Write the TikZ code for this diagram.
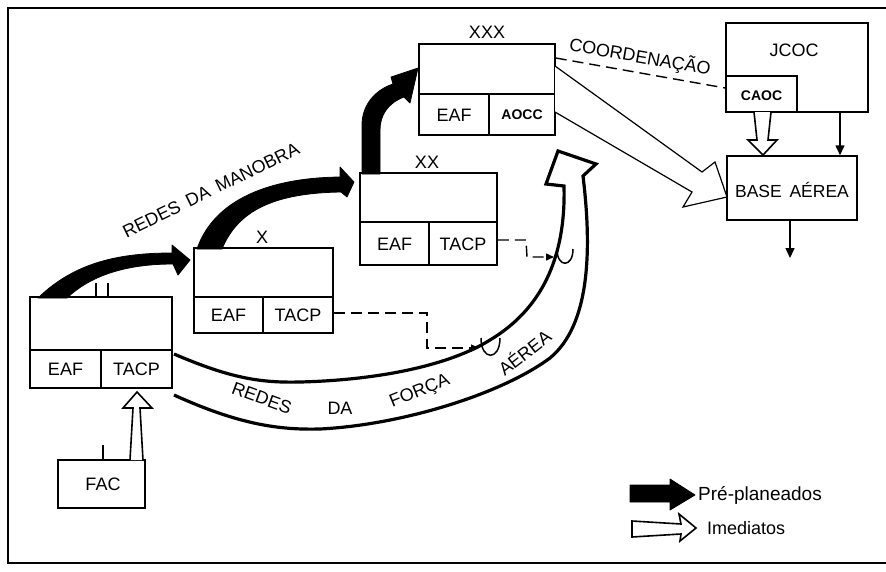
\documentclass[tikz,border=0pt]{standalone}
\usepackage{fontspec}
\setmainfont{Liberation Sans}
\usetikzlibrary{arrows.meta}
\begin{document}
\begin{tikzpicture}[x=1pt,y=-1pt,
  box/.style={draw,line width=1.5pt,inner sep=0pt},
  lbl/.style={font=\fontsize{18}{20}\selectfont,inner sep=0pt},
  blbl/.style={font=\fontsize{14}{16}\selectfont\bfseries,inner sep=0pt},
  biglbl/.style={font=\fontsize{18}{20}\selectfont,inner sep=0pt},
  ln/.style={line width=1.5pt},
  thin/.style={line width=1.2pt},
  dashline/.style={line width=1.4pt,dash pattern=on 11pt off 6pt},
  solidfill/.style={fill=black,draw=black,line width=0.8pt,line join=round},
  hollow/.style={draw=black,fill=white,line width=1.6pt,line join=miter},
  band/.style={line width=3.2pt,line join=miter}]
\path[use as bounding box] (0,0) rectangle (886,571);
% frame
\draw[line width=2.4pt] (886,8) -- (8,8) -- (8,563) -- (886,563);

% ---- boxes ----
\node[box,minimum width=142pt,minimum height=91pt] (A) at (101,342.5) {};
\draw[ln] (A.west |- 0,350) -- (A.east |- 0,350);
\draw[ln] (101,350) -- (A.south -| 101,0);
\node[lbl] (Aeaf) at (65.5,369.5) {EAF};
\node[lbl] (Atacp) at (136.5,369.5) {TACP};
\draw[ln] (96,283) -- (A.north -| 96,0);
\draw[ln] (108,283) -- (A.north -| 108,0);

\node[box,minimum width=139pt,minimum height=85pt] (X) at (263.5,290.5) {};
\draw[ln] (X.west |- 0,297) -- (X.east |- 0,297);
\draw[ln] (263,297) -- (X.south -| 263,0);
\node[lbl] (Xeaf) at (228.5,315.5) {EAF};
\node[lbl] (Xtacp) at (298,315.5) {TACP};
\node[lbl] (Xlab) at (262,237) {X};

\node[box,minimum width=137pt,minimum height=92pt] (XX) at (428.5,219) {};
\draw[ln] (XX.west |- 0,222) -- (XX.east |- 0,222);
\draw[ln] (429,222) -- (XX.south -| 429,0);
\node[lbl] (XXeaf) at (394.5,244) {EAF};
\node[lbl] (XXtacp) at (463,244) {TACP};
\node[lbl] (XXlab) at (427,162) {XX};

\node[box,minimum width=136pt,minimum height=91pt] (XXX) at (487,89.5) {};
\draw[ln] (XXX.west |- 0,94) -- (XXX.east |- 0,94);
\draw[ln] (489,94) -- (XXX.south -| 489,0);
\node[lbl] (XXXeaf) at (454,115) {EAF};
\node[blbl] (XXXaocc) at (522,115) {AOCC};
\node[lbl] (XXXlab) at (487,32) {XXX};

\node[box,minimum width=142pt,minimum height=89pt] (jcoc) at (797,67.5) {};
\node[lbl] (jcoclab) at (794,50) {JCOC};
\node[box,minimum width=71pt,minimum height=36pt] (caoc) at (761.5,94) {};
\node[blbl] (caoclab) at (761.5,96) {CAOC};

\node[box,minimum width=130pt,minimum height=64pt] (base) at (792,188) {};
\node[lbl,font=\fontsize{17.5}{20}\selectfont] (baselab) at (792,190) {BASE\ \,AÉREA};

\node[box,minimum width=87pt,minimum height=48pt] (fac) at (101.5,484) {};
\node[lbl] (faclab) at (103,484) {FAC};
\draw[ln] (103,445) -- (fac.north -| 103,0);

% ---- JCOC / CAOC / base arrows ----
\draw[ln,-{Triangle[length=10pt,width=9pt]}] (jcoc.south -| 840,0) -- (base.north -| 840,0);
\draw[ln,-{Triangle[length=10pt,width=9pt]}] (base.south -| 790,0) -- (790,258);
\draw[hollow] (754,112) -- (757,140) -- (748,140) -- (763,155) -- (777,140) -- (768,140) -- (771,112);

% coordination
\draw[dashline] (XXX.east |- 0,58) -- (caoc.west |- 0,88);
\node[biglbl,rotate=-10] (coord) at (640,57) {COORDENAÇÃO};

% big hollow arrow XXX -> base
\draw[thin,fill=white,line join=miter] (555,66) -- (702,172) -- (715,162) -- (727,197) -- (683,207) -- (692,192) -- (555,112);

% ---- solid (pre-planned) arrows ----
\fill[solidfill] (38,298) .. controls (75,262) and (120,253) .. (172,253) -- (172,245) -- (190,260) -- (178,275) -- (173,264) .. controls (125,264) and (90,276) .. (67,298) -- cycle;
\fill[solidfill] (197,249) .. controls (212,205) and (260,178) .. (340,177) -- (340,167) -- (354,182) -- (347,197) -- (341,192) .. controls (275,193) and (238,210) .. (222,249) -- cycle;
\fill[solidfill] (362,174) -- (362,125) .. controls (362,105) and (375,90) .. (393,84) -- (391,77) -- (418,68) -- (410,103) -- (404,97) .. controls (388,103) and (380,115) .. (380,130) -- (380,174) -- cycle;
\node[biglbl,rotate=26] (manobra) at (211,190) {REDES\ \,DA\ \,MANOBRA};

% ---- FAC -> TACP hollow arrow ----
\draw[hollow] (130,460) -- (133,408) -- (123,408) -- (137,392) -- (152,408) -- (140,408) -- (143,460);

% ---- Forca Aerea band ----
\draw[band] (174,354) .. controls (230,378) and (260,383) .. (300,382)
  .. controls (380,380) and (450,365) .. (490,340)
  .. controls (540,310) and (566,260) .. (564,186)
  -- (546,184) -- (558,151) -- (596,164) -- (583,176)
  .. controls (592,250) and (590,325) .. (550,358)
  .. controls (500,395) and (400,425) .. (320,429)
  .. controls (280,430) and (240,425) .. (174,395);
\node[biglbl,rotate=-20] (redes) at (262,398) {REDES};
\node[biglbl] (da) at (340,408) {DA};
\node[biglbl,rotate=22] (forca) at (420,392) {FORÇA};
\node[biglbl,rotate=38] (aerea) at (524,352) {AÉREA};

% ---- dashed TACP links ----
\draw[dashline,-{Triangle[length=8pt,width=7pt]}] (X.east |- 0,313) -- (427,313) -- (427,348) -- (479,348);
\draw[ln] (481,338) .. controls (481,361) and (500,361) .. (500,338);
\draw[dashline,-{Triangle[length=8pt,width=7pt]}] (XX.east |- 0,240) -- (526,240) -- (527,257) -- (554,257);
\draw[ln] (557,249) .. controls (557,268) and (573,268) .. (573,249);

% ---- legend ----
\fill[solidfill] (630,485) -- (670,485) -- (670,479) -- (695,495) -- (670,510) -- (670,502) -- (630,502) -- cycle;
\node[lbl,anchor=west,font=\fontsize{19}{21}\selectfont] (pre) at (698,495) {Pré-planeados};
\draw[hollow] (632,521) -- (681,524) -- (679,514) -- (696,528) -- (680,541) -- (681,534) -- (632,537) -- cycle;
\node[lbl,anchor=west,font=\fontsize{18}{20}\selectfont] (ime) at (707,528) {Imediatos};
\end{tikzpicture}
\end{document}
